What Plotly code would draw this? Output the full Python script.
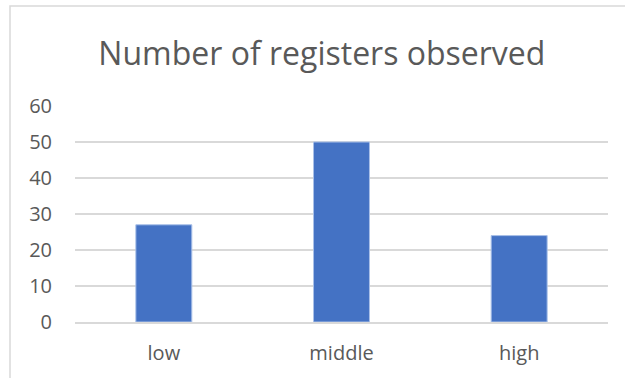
import plotly.graph_objects as go

categories = ["low", "middle", "high"]
values = [27, 50, 24]
y_ticks = [0, 10, 20, 30, 40, 50, 60]

fig = go.Figure()
fig.add_trace(go.Bar(
    x=categories, y=values,
    marker=dict(color="#4472C4", line=dict(color="#A9C0E8", width=1)),
    width=0.315,
))

fig.update_layout(
    width=625, height=378,
    margin=dict(l=75, r=17, t=106, b=56),
    paper_bgcolor="white", plot_bgcolor="white",
    showlegend=False,
    title=dict(text="Number of registers observed", x=0.515, xanchor="center",
               y=1 - 54/378, yanchor="middle",
               font=dict(family="Open Sans", size=32, color="#595959")),
    font=dict(family="Open Sans", color="#595959", size=20),
    bargap=0.685,
)
fig.update_yaxes(range=[0, 60], tickvals=y_ticks, showgrid=True, gridcolor="#D9D9D9",
                 gridwidth=1.5, zeroline=False, showline=False, ticks="", automargin=False,
                 ticklabelstandoff=22, tickfont=dict(size=20, color="#595959"))
fig.update_xaxes(showline=True, linecolor="#D9D9D9", linewidth=1.5, ticks="", automargin=False,
                 ticklabelstandoff=12, tickfont=dict(size=20, color="#595959"))

fig.add_shape(type="rect", xref="paper", yref="paper",
              x0=(10-75)/533, x1=(640-75)/533, y0=(322-400)/216, y1=(322-6)/216,
              line=dict(color="#D9D9D9", width=1.5), fillcolor="rgba(0,0,0,0)", layer="below")

fig.write_html("out.html")
